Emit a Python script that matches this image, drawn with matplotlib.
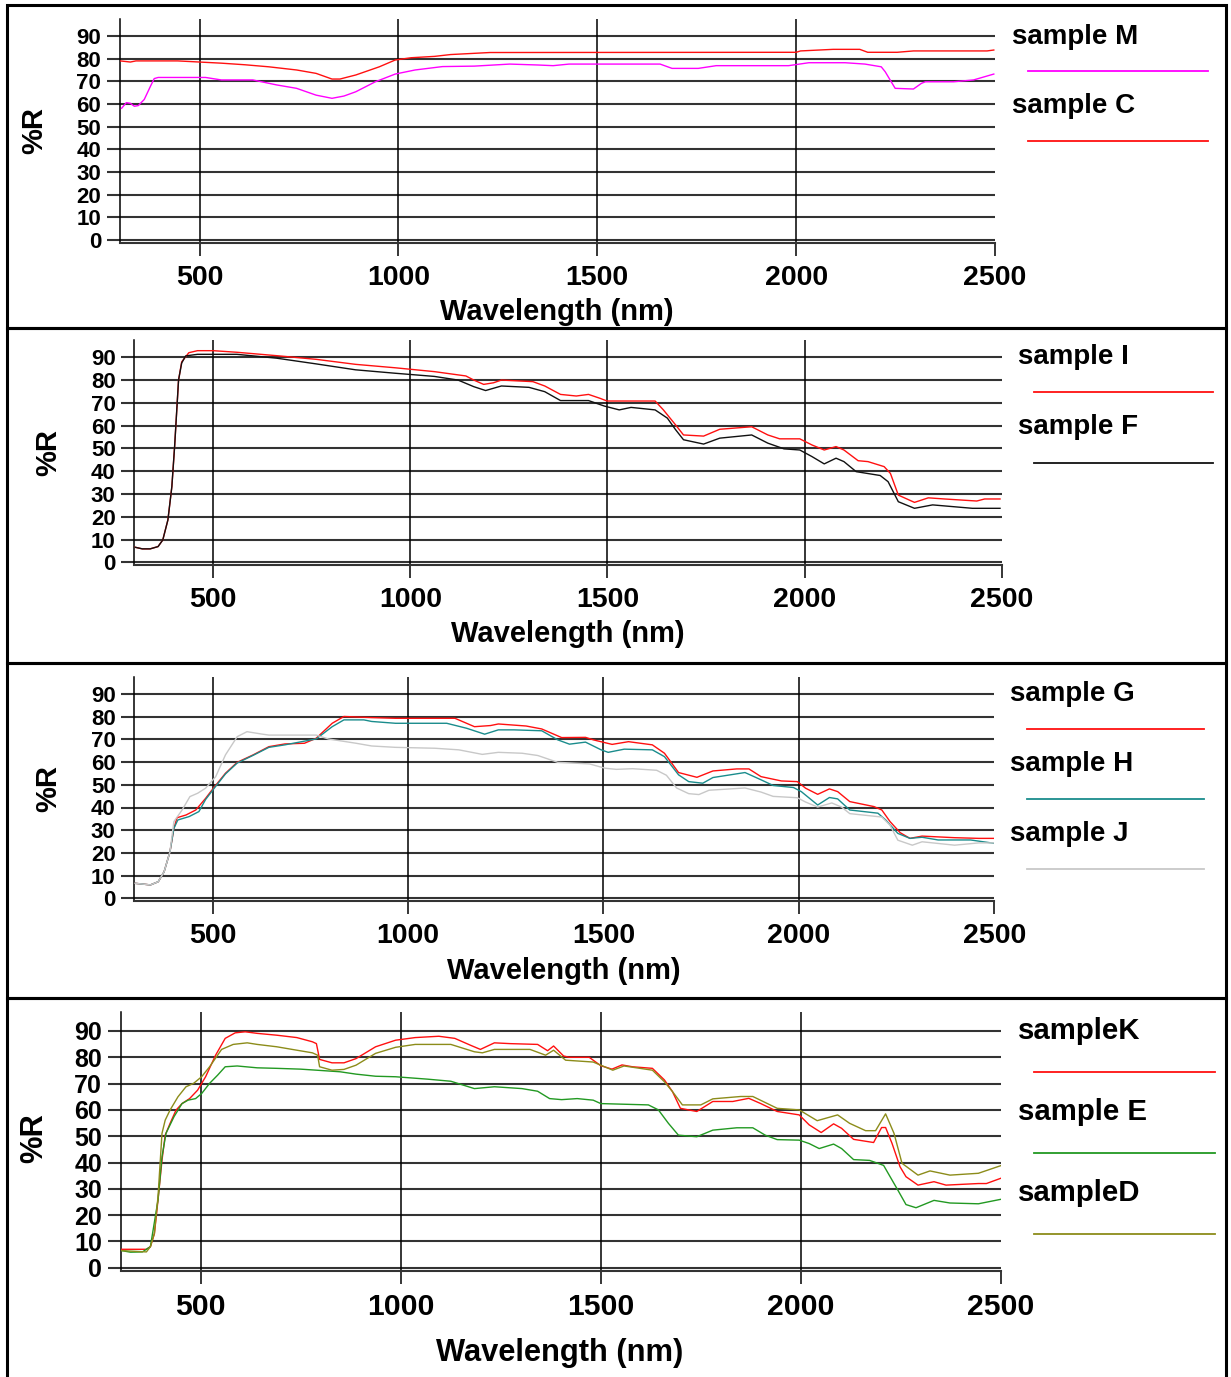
import matplotlib
matplotlib.use('Agg')
import matplotlib.pyplot as plt
from matplotlib.lines import Line2D
from matplotlib.patches import Rectangle

plt.rcParams['font.family'] = ['Liberation Sans', 'DejaVu Sans']
plt.rcParams['font.weight'] = 'bold'

# ---------------- data ----------------
# Panel 1
wl_M = [304, 316, 326, 336, 346, 361, 376, 386, 396, 515, 555, 634, 694, 744, 793, 833, 863, 893, 942, 992,
        1042, 1111, 1191, 1280, 1350, 1389, 1429, 1506, 1658, 1688, 1754, 1799, 1981, 2032, 2123, 2173, 2214,
        2224, 2239, 2249, 2295, 2315, 2325, 2396, 2446, 2497]
r_M = [58.1, 60.6, 60.3, 59.0, 59.3, 62.0, 67.6, 71.2, 71.7, 71.7, 70.6, 70.6, 68.4, 66.9, 63.9, 62.5, 63.5, 65.4,
       69.8, 73.2, 75.0, 76.5, 76.7, 77.6, 77.2, 76.9, 77.6, 77.6, 77.6, 75.7, 75.7, 76.9, 76.9, 78.2, 78.2, 77.6,
       76.4, 74.2, 69.8, 66.9, 66.6, 69.1, 69.8, 69.8, 70.6, 73.2]
wl_C = [301, 326, 340, 445, 555, 614, 674, 744, 793, 833, 853, 893, 952, 992, 1032, 1091, 1131, 1230, 2000,
        2011, 2093, 2160, 2180, 2254, 2295, 2480, 2497]
r_C = [79.0, 78.5, 79.0, 79.0, 78.0, 77.3, 76.4, 75.0, 73.5, 71.0, 71.0, 72.8, 76.4, 79.4, 80.4, 81.0, 81.8, 82.7,
       82.8, 83.4, 84.1, 84.1, 82.8, 82.8, 83.4, 83.4, 83.8]

# Panel 2
wl_I = [302, 320, 340, 360, 372, 385, 395, 402, 407, 412, 420, 438, 460, 500, 560, 661, 761, 861, 961, 1061,
        1141, 1161, 1186, 1211, 1231, 1311, 1341, 1381, 1421, 1452, 1481, 1499, 1621, 1642, 1673, 1693, 1744,
        1785, 1866, 1907, 1937, 1988, 2019, 2050, 2080, 2100, 2136, 2161, 2202, 2218, 2238, 2279, 2314, 2355,
        2437, 2457, 2496]
r_I = [6.6, 5.9, 5.9, 6.9, 9.8, 18.6, 33.2, 50.8, 65.4, 80.0, 88.0, 92.0, 92.9, 92.9, 92.2, 90.7, 89.1, 86.9,
       85.4, 83.7, 81.8, 80.0, 78.1, 78.8, 80.0, 79.3, 77.4, 73.7, 73.0, 73.7, 72.0, 70.8, 70.8, 66.9, 60.3,
       55.9, 55.4, 58.4, 59.5, 55.9, 54.2, 54.2, 51.5, 49.3, 50.8, 49.3, 44.6, 44.2, 42.0, 39.0, 29.5, 26.3,
       28.3, 27.8, 26.9, 27.8, 27.8]
wl_F = [302, 320, 340, 360, 372, 385, 395, 402, 407, 412, 420, 430, 460, 560, 661, 761, 861, 961, 1061, 1121,
        1161, 1191, 1231, 1301, 1341, 1381, 1452, 1492, 1530, 1560, 1621, 1652, 1673, 1693, 1744, 1785, 1866,
        1907, 1948, 1988, 2019, 2050, 2080, 2100, 2131, 2192, 2212, 2238, 2279, 2325, 2426, 2496]
r_F = [6.6, 5.9, 5.9, 6.9, 9.8, 18.6, 33.2, 50.8, 65.4, 80.0, 87.5, 90.6, 91.3, 91.3, 89.6, 87.1, 84.5, 83.0,
       81.6, 80.0, 77.1, 75.4, 77.4, 76.8, 74.9, 71.0, 71.0, 68.6, 66.9, 68.0, 66.9, 63.3, 58.2, 53.8, 51.9,
       54.5, 55.9, 52.3, 49.8, 49.3, 46.4, 43.2, 45.7, 44.2, 39.8, 38.1, 35.4, 26.6, 23.7, 25.2, 23.7, 23.7]

# Panel 3
wl_G = [302, 341, 361, 376, 391, 401, 409, 432, 457, 482, 502, 533, 563, 604, 644, 685, 735, 765, 806, 836,
        907, 968, 1120, 1170, 1211, 1231, 1302, 1342, 1393, 1454, 1474, 1522, 1564, 1625, 1656, 1692, 1739,
        1780, 1841, 1872, 1903, 1955, 1996, 2017, 2048, 2078, 2099, 2130, 2192, 2212, 2233, 2259, 2284, 2315,
        2398, 2460, 2500]
r_G = [6.6, 5.9, 7.3, 11.7, 20.5, 30.8, 35.5, 36.7, 38.9, 44.0, 48.5, 55.1, 59.9, 63.2, 66.8, 68.0, 68.3, 70.5,
       77.1, 80.1, 79.6, 79.3, 79.3, 75.6, 76.1, 76.8, 75.9, 74.6, 70.8, 70.9, 69.8, 67.8, 69.0, 67.6, 63.9,
       55.4, 53.3, 56.1, 57.0, 57.0, 53.6, 51.7, 51.4, 48.5, 45.8, 48.2, 47.0, 42.6, 40.4, 38.9, 33.8, 28.9,
       26.4, 27.4, 26.7, 26.4, 26.4]
wl_H = [302, 341, 361, 376, 391, 401, 411, 440, 465, 482, 502, 533, 563, 604, 644, 685, 765, 806, 836, 887,
        907, 968, 1099, 1150, 1196, 1231, 1271, 1342, 1383, 1413, 1454, 1494, 1512, 1553, 1625, 1656, 1692,
        1718, 1754, 1780, 1862, 1903, 1934, 1986, 2006, 2048, 2078, 2099, 2130, 2202, 2222, 2253, 2284, 2315,
        2356, 2439, 2500]
r_H = [6.6, 5.9, 7.3, 11.7, 20.5, 30.8, 34.5, 36.0, 38.2, 43.5, 48.0, 54.8, 59.6, 63.0, 66.5, 67.6, 70.2, 75.6,
       78.6, 78.6, 77.9, 77.1, 77.1, 74.9, 72.3, 74.2, 74.2, 73.8, 69.8, 67.9, 68.8, 65.4, 64.3, 65.7, 65.4,
       62.4, 54.4, 51.4, 50.7, 53.2, 55.4, 52.2, 49.7, 48.8, 47.0, 41.1, 44.4, 43.8, 38.9, 37.5, 34.5, 28.6,
       26.4, 26.9, 25.7, 25.7, 24.2]
wl_J = [302, 341, 361, 376, 391, 401, 422, 442, 462, 482, 508, 533, 563, 588, 624, 644, 765, 796, 867, 907,
        968, 1069, 1130, 1190, 1231, 1292, 1332, 1383, 1464, 1504, 1533, 1574, 1636, 1661, 1687, 1718, 1744,
        1770, 1862, 1903, 1934, 1996, 2017, 2048, 2084, 2109, 2130, 2212, 2233, 2253, 2290, 2315, 2398, 2460,
        2500]
r_J = [6.6, 5.9, 7.3, 11.7, 20.5, 33.8, 38.9, 44.8, 46.3, 48.5, 53.6, 63.2, 71.2, 73.4, 72.4, 71.9, 71.9, 70.2,
       68.3, 67.1, 66.5, 66.1, 65.4, 63.4, 64.3, 63.9, 62.9, 59.9, 59.2, 57.3, 56.8, 57.1, 56.4, 54.2, 48.6,
       46.1, 45.7, 47.6, 48.6, 46.8, 44.9, 44.3, 42.4, 40.2, 42.0, 40.2, 37.3, 35.8, 32.2, 25.6, 23.4, 24.9,
       23.4, 24.4, 24.4]

# Panel 4
wl_K = [302, 364, 374, 384, 393, 403, 411, 423, 438, 453, 472, 492, 512, 537, 561, 586, 611, 641, 690, 740,
        779, 789, 797, 828, 858, 888, 937, 987, 1036, 1095, 1135, 1174, 1199, 1234, 1273, 1342, 1367, 1382, 1407,
        1421, 1471, 1500, 1528, 1553, 1579, 1629, 1659, 1679, 1699, 1740, 1780, 1830, 1870, 1900, 1941, 1996,
        2021, 2051, 2082, 2102, 2132, 2182, 2202, 2212, 2228, 2248, 2263, 2293, 2333, 2363, 2444, 2464, 2500]
r_K = [7.0, 7.0, 8.0, 13.0, 25.7, 40.9, 50.4, 54.8, 59.9, 62.4, 64.3, 67.5, 72.6, 80.8, 87.2, 89.3, 89.7, 89.1,
       88.4, 87.5, 85.9, 85.2, 79.2, 77.9, 77.9, 79.5, 84.0, 86.5, 87.5, 88.0, 87.2, 84.6, 83.0, 85.5, 85.2,
       84.9, 82.5, 84.3, 80.5, 80.0, 80.0, 76.8, 75.5, 77.1, 76.4, 75.8, 71.4, 67.0, 60.6, 59.4, 63.2, 63.2,
       64.4, 62.4, 59.4, 58.1, 54.3, 51.4, 54.7, 53.0, 48.8, 47.6, 53.3, 53.3, 47.3, 38.4, 34.6, 31.4, 32.7,
       31.4, 32.0, 32.0, 34.0]
wl_E = [302, 324, 354, 374, 393, 403, 413, 433, 453, 468, 487, 502, 522, 542, 561, 591, 641, 690, 749, 789, 848,
        888, 937, 987, 1066, 1125, 1184, 1234, 1303, 1342, 1372, 1402, 1441, 1481, 1500, 1619, 1644, 1669, 1694,
        1740, 1780, 1840, 1880, 1911, 1941, 1996, 2021, 2046, 2082, 2102, 2132, 2172, 2207, 2243, 2263, 2288,
        2333, 2373, 2444, 2500]
r_E = [6.5, 5.9, 6.0, 8.0, 25.7, 42.2, 51.1, 57.4, 62.4, 63.7, 64.3, 66.2, 70.1, 73.2, 76.4, 76.7, 76.0, 75.8,
       75.5, 75.1, 74.5, 73.6, 72.8, 72.6, 71.7, 70.9, 68.1, 68.8, 68.1, 67.1, 64.3, 63.9, 64.3, 63.7, 62.4,
       61.9, 60.0, 54.9, 50.4, 49.8, 52.3, 53.2, 53.2, 50.4, 48.7, 48.5, 47.2, 45.3, 47.0, 45.3, 41.1, 40.8,
       38.9, 29.4, 24.0, 22.8, 25.6, 24.6, 24.3, 26.0]
wl_D = [302, 364, 374, 384, 393, 403, 411, 423, 443, 463, 482, 502, 522, 552, 581, 616, 641, 690, 740, 779, 792,
        797, 828, 858, 888, 937, 987, 1036, 1125, 1184, 1204, 1234, 1323, 1362, 1382, 1412, 1481, 1530, 1558,
        1629, 1659, 1679, 1704, 1750, 1780, 1850, 1880, 1941, 1996, 2041, 2092, 2122, 2162, 2187, 2212, 2233,
        2253, 2293, 2323, 2373, 2444, 2500]
r_D = [6.5, 6.0, 8.0, 13.0, 27.0, 51.1, 56.1, 59.9, 65.0, 68.8, 70.1, 72.6, 76.4, 83.0, 84.9, 85.5, 84.9, 84.0,
       82.7, 81.7, 80.8, 76.4, 75.1, 75.4, 77.0, 81.5, 83.8, 84.9, 84.9, 82.1, 81.7, 83.0, 83.0, 80.8, 82.7,
       78.9, 78.2, 75.1, 76.7, 75.1, 70.7, 67.0, 61.9, 61.9, 64.2, 65.1, 65.1, 60.6, 60.0, 55.9, 58.1, 54.9,
       52.1, 52.1, 58.5, 51.1, 39.7, 35.2, 36.8, 35.2, 35.9, 38.8]

x_ticks = [500, 1000, 1500, 2000, 2500]
y_ticks = [0, 10, 20, 30, 40, 50, 60, 70, 80, 90]
x_label = "Wavelength (nm)"
y_label = "%R"

RED = '#ff1010'
panels = [
    dict(series=[("sample M", wl_M, r_M, '#ff00ff'), ("sample C", wl_C, r_C, RED)]),
    dict(series=[("sample I", wl_I, r_I, RED), ("sample F", wl_F, r_F, '#111111')]),
    dict(series=[("sample G", wl_G, r_G, RED), ("sample H", wl_H, r_H, '#1a8c8c'),
                 ("sample J", wl_J, r_J, '#c8c8c8')]),
    dict(series=[("sampleK", wl_K, r_K, RED), ("sample E", wl_E, r_E, '#229922'),
                 ("sampleD", wl_D, r_D, '#8c8c1a')]),
]

# ---------------- layout (pixels) ----------------
W, H = 1231, 1377
fig = plt.figure(figsize=(W / 100, H / 100), dpi=100)

geom = [
    dict(x300=120, x2500=995, y0=240, s=22.67, xl=(557, 312), yl=(34, 130), lx=1012,
         ty=[37, 106], ly=[71, 141], lx0=1028, lx1=1208, k=1.0, yfs=16),
    dict(x300=134.4, x2500=1001.6, y0=562.3, s=22.78, xl=(568, 634), yl=(48, 452), lx=1018,
         ty=[357, 427], ly=[392, 462.5], lx0=1034, lx1=1213, k=1.0, yfs=16),
    dict(x300=134.4, x2500=994.4, y0=898.3, s=22.7, xl=(564, 971), yl=(48, 788), lx=1010,
         ty=[694, 764, 834], ly=[729, 799, 869], lx0=1027, lx1=1204, k=1.0, yfs=16),
    dict(x300=120.8, x2500=1000.8, y0=1267.7, s=26.3, xl=(560, 1353), yl=(34, 1138), lx=1018,
         ty=[1031, 1112, 1193], ly=[1071.5, 1153, 1234], lx0=1034, lx1=1215, k=1.06, yfs=18),
]

YMIN, YMAX = -1.3, 97.4

for p, g in zip(panels, geom):
    top = g['y0'] - YMAX / 10 * g['s']
    bot = g['y0'] - YMIN / 10 * g['s']
    ax = fig.add_axes([g['x300'] / W, 1 - bot / H, (g['x2500'] - g['x300']) / W, (bot - top) / H])
    ax.set_xlim(300, 2500)
    ax.set_ylim(YMIN, YMAX)
    for v in y_ticks:
        ax.axhline(v, color='#333333', lw=1.5, zorder=1)
    for v in x_ticks[:-1]:
        ax.axvline(v, color='black', lw=1.1, zorder=1)
    for name, x, y, c in p['series']:
        ax.plot(x, y, color=c, lw=1.0, zorder=3)
    ax.spines['top'].set_visible(False)
    ax.spines['right'].set_visible(False)
    ax.spines['left'].set_color('black')
    ax.spines['left'].set_linewidth(1.1)
    ax.spines['bottom'].set_color('#333333')
    ax.spines['bottom'].set_linewidth(1.5)
    ax.set_xticks(x_ticks)
    ax.set_yticks(y_ticks)
    k = g['k']
    ax.tick_params(axis='y', direction='out', length=9.5, width=1.5, color='#333333',
                   labelsize=g['yfs'], pad=4)
    ax.tick_params(axis='x', direction='out', length=9, width=1.1, color='black',
                   labelsize=20.5 * k, pad=7)
    for t in ax.get_xticklabels() + ax.get_yticklabels():
        t.set_fontweight('bold')

    fig.text(g['xl'][0] / W, 1 - g['xl'][1] / H, x_label, ha='center', va='center',
             fontsize=21 * k, fontweight='bold')
    fig.text(g['yl'][0] / W, 1 - g['yl'][1] / H, y_label, ha='center', va='center',
             rotation=90, fontsize=21 * k, fontweight='bold')
    for (name, x, y, c), ty, ly in zip(p['series'], g['ty'], g['ly']):
        fig.text(g['lx'] / W, 1 - ty / H, name, ha='left', va='center',
                 fontsize=20 * k, fontweight='bold')
        fig.add_artist(Line2D([g['lx0'] / W, g['lx1'] / W], [1 - ly / H, 1 - ly / H],
                              color=c, lw=1.3, transform=fig.transFigure))

# panel borders
for y1, y2 in [(5, 328), (328, 663), (663, 998), (998, 1385)]:
    fig.add_artist(Rectangle((7 / W, 1 - y2 / H), (1226 - 7) / W, (y2 - y1) / H,
                             transform=fig.transFigure, fill=False, edgecolor='black', lw=2.2))

fig.savefig('out.png', dpi=100)
